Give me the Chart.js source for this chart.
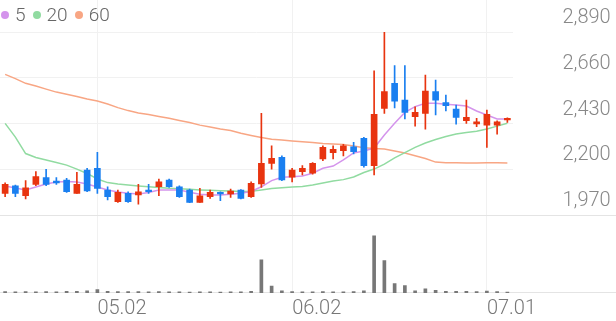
<!DOCTYPE html>
<html>
<head>
<meta charset="utf-8">
<script src="https://cdn.jsdelivr.net/npm/chart.js@4.4.1/dist/chart.umd.min.js"></script>
<style>
  html, body { margin: 0; padding: 0; background: #fff; }
  #wrap { position: relative; width: 616px; height: 321px; }
  #legend { position: absolute; left: 1px; top: 4px; display: flex; align-items: center;
            font: 300 19px Roboto, sans-serif; color: #666; line-height: 22px; }
  #legend .item { display: flex; align-items: center; margin-right: 7px; }
  #legend .dot { display: inline-block; width: 8px; height: 8px; border-radius: 50%; margin-right: 6px; }
</style>
</head>
<body>
<div id="wrap">
  <canvas id="chart" width="616" height="321"></canvas>
  <div id="legend"></div>
</div>
<script>
// trading days
const DATES = [
  "04.18","04.21","04.22","04.23","04.24","04.25","04.28","04.29","04.30","05.02",
  "05.07","05.08","05.09","05.12","05.13","05.14","05.15","05.16","05.19","05.20",
  "05.21","05.22","05.23","05.26","05.27","05.28","05.29","05.30","06.02","06.04",
  "06.05","06.09","06.10","06.11","06.12","06.13","06.16","06.17","06.18","06.19",
  "06.20","06.23","06.24","06.25","06.26","06.27","06.30","07.01","07.02","07.03"
];
const DATE_TICKS = ["05.02", "06.02", "07.01"];

const OPEN = [
  2079,2117,2067,2124,2158,2141,2146,2079,2196,2205,
  2096,2037,2079,2071,2096,2112,2146,2112,2096,2034,
  2062,2084,2076,2096,2062,2126,2230,2260,2160,2188,
  2180,2252,2283,2293,2313,2356,2218,2506,2632,2548,
  2464,2481,2590,2535,2503,2444,2428,2422,2422,2448
];
const HIGH = [
  2132,2121,2143,2188,2200,2158,2155,2185,2205,2285,
  2112,2096,2086,2124,2124,2151,2151,2117,2101,2104,
  2096,2087,2101,2098,2137,2481,2318,2267,2205,2218,
  2234,2318,2318,2325,2336,2360,2695,2888,2721,2721,
  2514,2674,2649,2573,2523,2548,2456,2498,2444,2459
];
const LOW = [
  2062,2062,2051,2117,2117,2124,2084,2079,2087,2079,
  2046,2034,2033,2024,2079,2067,2109,2059,2032,2034,
  2054,2042,2059,2051,2059,2109,2200,2143,2137,2171,
  2175,2243,2252,2267,2277,2210,2171,2481,2509,2453,
  2417,2402,2473,2493,2427,2431,2414,2310,2376,2436
];
const CLOSE = [
  2124,2079,2107,2163,2124,2132,2087,2124,2091,2104,
  2062,2084,2037,2087,2087,2137,2112,2062,2034,2067,
  2084,2076,2091,2054,2129,2230,2255,2146,2196,2205,
  2230,2310,2300,2318,2288,2218,2476,2590,2543,2486,
  2486,2593,2548,2520,2461,2461,2439,2476,2439,2456
];

// moving averages
const MA5 = [
  2116,2106,2096,2111,2126,2136,2138,2136,2126,2111,
  2096,2086,2079,2076,2083,2096,2096,2096,2084,2074,
  2071,2071,2074,2079,2088,2112,2143,2160,2163,2166,
  2180,2205,2216,2247,2282,2292,2307,2372,2431,2486,
  2515,2532,2532,2527,2523,2518,2493,2473,2453,2453
];
const MA20 = [
  2431,2362,2279,2259,2247,2234,2221,2201,2179,2151,
  2133,2126,2121,2116,2112,2108,2104,2102,2099,2096,
  2094,2092,2091,2088,2089,2096,2103,2107,2111,2114,
  2121,2131,2141,2148,2161,2184,2201,2226,2257,2284,
  2310,2332,2350,2365,2377,2385,2391,2402,2417,2431
];
const MA60 = [
  2677,2656,2632,2619,2603,2588,2577,2566,2553,2543,
  2528,2510,2495,2483,2475,2465,2456,2445,2435,2422,
  2412,2402,2395,2381,2370,2360,2351,2347,2342,2338,
  2335,2330,2327,2324,2317,2308,2304,2302,2292,2282,
  2268,2254,2236,2233,2233,2232,2232,2233,2233,2232
];

// volume, thousand shares
const VOLUME = [
  45,40,45,40,45,40,55,60,70,115,
  55,50,45,45,40,45,40,40,35,40,
  40,35,40,40,60,1130,240,70,45,40,
  40,45,40,40,45,70,1950,1110,320,250,
  75,145,90,60,55,55,50,65,50,30
];

const PRICE_TICKS = [1970, 2200, 2430, 2660, 2890];
const PRICE_MIN = 1578, PRICE_MAX = 3051;
const VOLUME_MAX = 10000;

const UP = "#e8340f";
const DOWN = "#1a7ff0";
const MA_COLORS = { ma5: "#d494ec", ma20: "#91dba1", ma60: "#f8a684" };
const GRID = "#f1f1f1";
const SEPARATOR = "#e4e4e4";
const FONT = { family: "Roboto, sans-serif", size: 20, weight: "300" };

function buildLegend(){
  const items = [["5", MA_COLORS.ma5], ["20", MA_COLORS.ma20], ["60", MA_COLORS.ma60]];
  const el = document.getElementById("legend");
  el.innerHTML = items.map(([t, c]) =>
    `<span class="item"><span class="dot" style="background:${c}"></span>${t}</span>`).join("");
}

// full-width lines under the price pane and the volume pane
const separators = {
  id: "separators",
  beforeDatasetsDraw(chart){
    const { ctx, chartArea, scales } = chart;
    const ys = [
      Math.round(scales.y.getPixelForValue(PRICE_TICKS[0])) + 0.5,
      Math.round(chartArea.bottom) - 0.5
    ];
    ctx.save();
    ctx.strokeStyle = SEPARATOR;
    ctx.lineWidth = 1;
    for (const y of ys){
      ctx.beginPath();
      ctx.moveTo(0, y);
      ctx.lineTo(chart.width, y);
      ctx.stroke();
    }
    ctx.restore();
  }
};

function maLine(data, color){
  return {
    type: "line", data, borderColor: color, borderWidth: 1.5,
    pointRadius: 0, tension: 0, yAxisID: "y", order: 2
  };
}

buildLegend();

const candleColors = OPEN.map((o, i) => CLOSE[i] >= o ? UP : DOWN);
const tickIdx = DATE_TICKS.map(d => DATES.indexOf(d));

new Chart(document.getElementById("chart").getContext("2d"), {
  type: "bar",
  data: {
    labels: DATES,
    datasets: [
      {
        label: "body", data: OPEN.map((o, i) => [o, CLOSE[i]]),
        backgroundColor: candleColors, barThickness: 6, minBarLength: 1,
        grouped: false, yAxisID: "y", order: 0
      },
      {
        label: "wick", data: LOW.map((l, i) => [l, HIGH[i]]),
        backgroundColor: candleColors, barThickness: 1,
        grouped: false, yAxisID: "y", order: 1
      },
      maLine(MA5, MA_COLORS.ma5),
      maLine(MA20, MA_COLORS.ma20),
      maLine(MA60, MA_COLORS.ma60),
      {
        label: "volume", data: VOLUME, backgroundColor: "#777",
        barThickness: 3, grouped: false, yAxisID: "yv", order: 3
      }
    ]
  },
  options: {
    responsive: false,
    animation: false,
    layout: { padding: 0 },
    plugins: { legend: { display: false }, tooltip: { enabled: false } },
    scales: {
      x: {
        offset: true,
        grid: {
          offset: false, drawTicks: false,
          color: (c) => tickIdx.includes(c.index) ? GRID : "transparent"
        },
        border: { display: false },
        ticks: {
          autoSkip: false, maxRotation: 0, align: "start", padding: 4,
          color: "#777", font: FONT,
          callback: (v, i) => tickIdx.includes(i) ? DATES[i] : ""
        },
        afterFit: (s) => { s.height = 28; s.paddingLeft = 0; s.paddingRight = 0; }
      },
      y: {
        position: "right",
        min: PRICE_MIN, max: PRICE_MAX,
        afterBuildTicks: (s) => { s.ticks = PRICE_TICKS.map(v => ({ value: v })); },
        grid: {
          drawTicks: false,
          color: (c) => (c.tick && c.tick.value === PRICE_TICKS[0]) ? "transparent" : GRID
        },
        border: { display: false },
        ticks: {
          padding: 50, labelOffset: -14, color: "#888", font: FONT,
          callback: (v) => Number(v).toLocaleString("en-US")
        },
        afterFit: (s) => { s.width = 103.5; s.paddingTop = 0; s.paddingBottom = 0; }
      },
      yv: {
        display: false, min: 0, max: VOLUME_MAX
      }
    }
  },
  plugins: [separators]
});
</script>
</body>
</html>
